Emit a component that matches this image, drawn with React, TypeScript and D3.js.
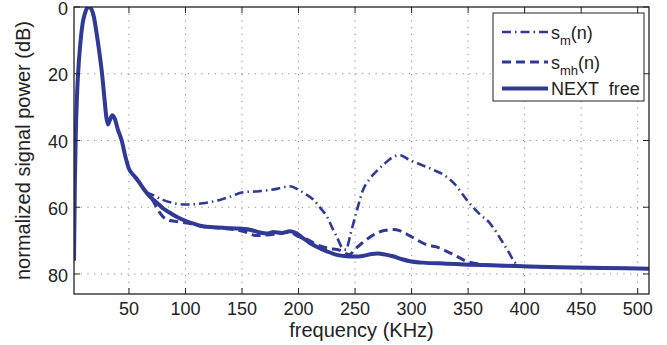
import { useEffect, useRef } from 'react'
import * as d3 from 'd3'

// NEXT free (solid)
const freqFree = [1.4, 2.2, 3, 4, 5, 7, 9, 11, 13, 14.7, 17, 19, 21, 24, 26.2, 28.5, 30, 31.5, 33, 35.3, 37.5, 40, 43.6, 47, 50, 53, 57, 60, 64, 68.6, 75, 80, 86, 93, 101, 108, 115.5, 125, 135, 148, 158, 165, 172, 178, 185, 192.4, 197, 203, 210, 217, 225, 233, 242.5, 250, 258, 265, 270, 277, 283.5, 291, 298.5, 310, 331, 350, 370, 398, 430, 470, 510]
const dbFree = [76, 52, 38, 27, 20, 11, 5, 2, 0.3, 0, 0.8, 3, 7, 14, 20, 28, 33, 35.2, 34, 32.4, 33.5, 36.5, 40, 45, 48.5, 50, 51.5, 53, 55, 56.8, 58.7, 60.3, 61.6, 63, 64.2, 65, 65.7, 66, 66.2, 66.4, 66.8, 67.5, 67.9, 67.4, 67.7, 67.2, 67.6, 69, 70.7, 72, 73.2, 74.2, 74.7, 74.8, 74.5, 74, 73.9, 74.2, 74.7, 75.5, 76.2, 76.6, 76.9, 77.2, 77.4, 77.7, 78, 78.2, 78.4]

// s_m(n) (dash-dot)
const freqSm = [55, 60, 65, 71.5, 80, 90, 101, 115, 130.5, 140, 151, 165, 180.6, 192.4, 200, 206, 213, 220, 225, 230, 234, 239.5, 242, 246, 251.4, 257.2, 263, 269, 276, 283.7, 289.6, 298, 310, 320, 328, 338, 348.6, 360, 369, 375, 380.9, 386, 391.3, 398, 430, 510]
const dbSm = [51, 53, 55.3, 56.4, 57.8, 58.8, 59.2, 58.8, 57.8, 56.8, 55.5, 55.2, 54.5, 53.7, 54.8, 56, 57.7, 60.5, 62.7, 66.3, 69, 72.5, 72.7, 68, 61.2, 54.7, 51.5, 49.2, 47, 44.9, 44.4, 45.8, 47.5, 48.9, 50.2, 53, 57.7, 62, 64.7, 67.5, 70.7, 73.5, 76.5, 77.7, 78, 78.4]

// s_mh(n) (dashed)
const freqSmh = [55, 60, 65, 68, 72, 76, 80, 85, 90.7, 97, 104, 115, 130, 150.8, 163, 172, 180, 192, 200, 208, 216, 226, 236.6, 242, 245, 250, 256, 263, 270, 277, 283.7, 290, 298.5, 306, 313, 322, 331, 340, 348.6, 360, 380, 398, 430, 510]
const dbSmh = [51, 53, 55.3, 56.5, 58.5, 61, 62.8, 63.8, 64.2, 64.5, 64.9, 65.8, 66.2, 67.2, 68.5, 68.3, 68, 67.5, 68.8, 69.7, 71.2, 72.3, 72.9, 73.9, 74.2, 72.6, 70.8, 69, 67.6, 66.9, 66.7, 67.1, 68.6, 70, 71.2, 71.9, 73.2, 74.7, 76.2, 77, 77.5, 77.7, 78, 78.4]

const xTicks = [50, 100, 150, 200, 250, 300, 350, 400, 450, 500]
const yTicks = [0, 20, 40, 60, 80]

const WIDTH = 667
const HEIGHT = 345
const MARGIN = { top: 7, right: 18, bottom: 51, left: 74 }
const BLUE = '#303a96'
const FONT = '"Liberation Sans", Arial, Helvetica, sans-serif'

export default function App() {
  const svgRef = useRef<SVGSVGElement>(null)

  useEffect(() => {
    if (!svgRef.current) return
    const svg = d3.select(svgRef.current)
    svg.selectAll('*').remove()

    const innerW = WIDTH - MARGIN.left - MARGIN.right
    const innerH = HEIGHT - MARGIN.top - MARGIN.bottom

    const x = d3.scaleLinear().domain([1.4, 510]).range([0, innerW])
    const y = d3.scaleLinear().domain([0, 86]).range([0, innerH])

    const g = svg.append('g')
      .attr('transform', `translate(${MARGIN.left},${MARGIN.top})`)

    svg.append('defs').append('clipPath').attr('id', 'plot-clip')
      .append('rect').attr('width', innerW).attr('height', innerH)

    // grid
    xTicks.forEach(t => {
      g.append('line')
        .attr('x1', x(t)).attr('x2', x(t)).attr('y1', 0).attr('y2', innerH)
        .attr('stroke', '#8a8a8a').attr('stroke-width', 1)
        .attr('stroke-dasharray', '1.2 5.5')
    })
    yTicks.filter(t => t > 0).forEach(t => {
      g.append('line')
        .attr('x1', 0).attr('x2', innerW).attr('y1', y(t)).attr('y2', y(t))
        .attr('stroke', '#8a8a8a').attr('stroke-width', 1)
        .attr('stroke-dasharray', '1.2 5.5')
    })

    const lines = g.append('g').attr('clip-path', 'url(#plot-clip)')
    const line = d3.line<[number, number]>()
      .x(d => x(d[0]))
      .y(d => y(d[1]))
      .curve(d3.curveMonotoneX)

    const sm = freqSm.map((f, i) => [f, dbSm[i]] as [number, number])
    const smh = freqSmh.map((f, i) => [f, dbSmh[i]] as [number, number])
    const free = freqFree.map((f, i) => [f, dbFree[i]] as [number, number])

    lines.append('path').datum(sm)
      .attr('d', line).attr('fill', 'none').attr('stroke', BLUE)
      .attr('stroke-width', 2.6).attr('stroke-dasharray', '9 4 1.5 4')
    lines.append('path').datum(smh)
      .attr('d', line).attr('fill', 'none').attr('stroke', BLUE)
      .attr('stroke-width', 3).attr('stroke-dasharray', '9 5')
    lines.append('path').datum(free)
      .attr('d', line).attr('fill', 'none').attr('stroke', BLUE)
      .attr('stroke-width', 4).attr('stroke-linejoin', 'round')

    // box + inward ticks
    g.append('rect').attr('width', innerW).attr('height', innerH)
      .attr('fill', 'none').attr('stroke', '#222').attr('stroke-width', 1.3)
    const tickLen = 6
    xTicks.forEach(t => {
      g.append('line').attr('x1', x(t)).attr('x2', x(t))
        .attr('y1', innerH).attr('y2', innerH - tickLen).attr('stroke', '#222')
      g.append('line').attr('x1', x(t)).attr('x2', x(t))
        .attr('y1', 0).attr('y2', tickLen).attr('stroke', '#222')
      g.append('text').attr('x', x(t)).attr('y', innerH + 21)
        .attr('text-anchor', 'middle').attr('font-size', 18)
        .attr('font-family', FONT).attr('fill', '#222').text(t)
    })
    yTicks.forEach(t => {
      g.append('line').attr('x1', 0).attr('x2', tickLen)
        .attr('y1', y(t)).attr('y2', y(t)).attr('stroke', '#222')
      g.append('line').attr('x1', innerW).attr('x2', innerW - tickLen)
        .attr('y1', y(t)).attr('y2', y(t)).attr('stroke', '#222')
      g.append('text').attr('x', -6).attr('y', y(t)).attr('dy', '0.42em')
        .attr('text-anchor', 'end').attr('font-size', 18)
        .attr('font-family', FONT).attr('fill', '#222').text(t)
    })

    // axis labels
    svg.append('text')
      .attr('x', MARGIN.left + innerW / 2).attr('y', 337)
      .attr('text-anchor', 'middle').attr('font-size', 20)
      .attr('font-family', FONT).attr('fill', '#222')
      .text('frequency (KHz)')
    svg.append('text')
      .attr('transform', `translate(30,${MARGIN.top + innerH / 2}) rotate(-90)`)
      .attr('text-anchor', 'middle').attr('font-size', 20)
      .attr('font-family', FONT).attr('fill', '#222')
      .text('normalized signal power (dB)')

    // legend
    const legend = svg.append('g').attr('transform', 'translate(493,13)')
    legend.append('rect').attr('width', 151).attr('height', 88)
      .attr('fill', '#fff').attr('stroke', '#222').attr('stroke-width', 1)
    const entries = [
      { base: 's', sub: 'm', tail: '(n)', dash: '9 4 1.5 4', w: 2.6, yy: 19 },
      { base: 's', sub: 'mh', tail: '(n)', dash: '9 5', w: 3, yy: 49 },
      { base: 'NEXT  free', sub: '', tail: '', dash: null, w: 4, yy: 75.5 },
    ]
    entries.forEach(e => {
      const l = legend.append('line').attr('x1', 9).attr('x2', 55)
        .attr('y1', e.yy).attr('y2', e.yy)
        .attr('stroke', BLUE).attr('stroke-width', e.w)
      if (e.dash) l.attr('stroke-dasharray', e.dash)
      const t = legend.append('text').attr('x', 58).attr('y', e.yy + 6.5)
        .attr('font-size', 18).attr('font-family', FONT).attr('fill', '#222')
        .attr('xml:space', 'preserve').style('white-space', 'pre')
      t.append('tspan').text(e.base)
      if (e.sub) {
        t.append('tspan').attr('dy', 6).attr('font-size', 13).text(e.sub)
        t.append('tspan').attr('dy', -6).text(e.tail)
      }
    })
  }, [])

  return (
    <svg
      ref={svgRef}
      width={WIDTH}
      height={HEIGHT}
      style={{ position: 'absolute', left: 0, top: 0, background: '#fff' }}
    />
  )
}
